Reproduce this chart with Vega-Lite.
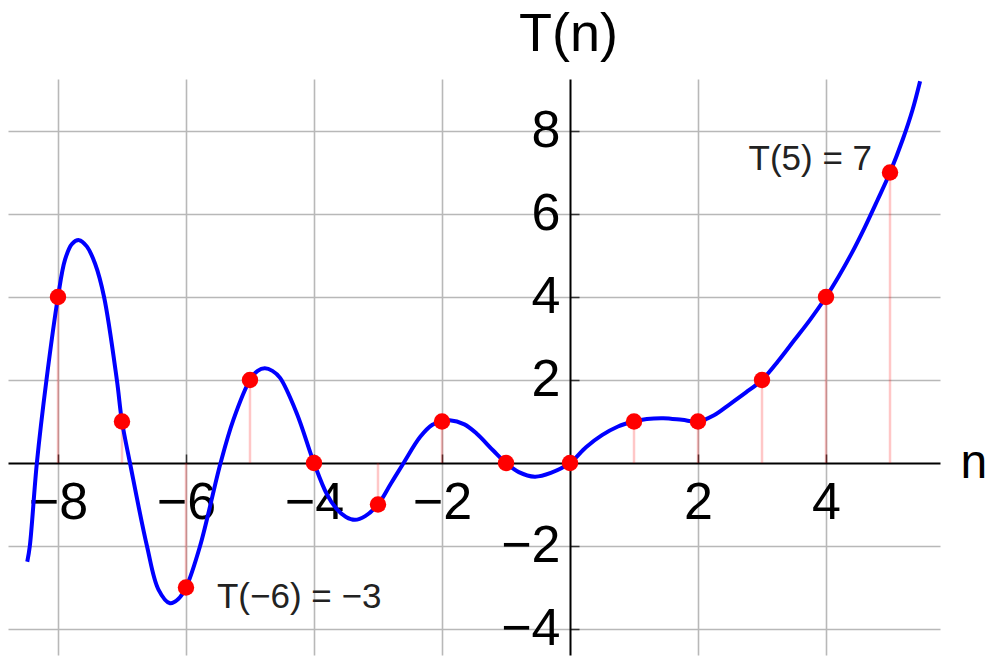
{
  "$schema": "https://vega.github.io/schema/vega-lite/v6.json",
  "width": 932,
  "height": 576,
  "autosize": {"type": "none"},
  "padding": {"left": 8, "top": 79, "right": 47, "bottom": 2},
  "background": "white",
  "config": {
    "view": {"stroke": null},
    "font": "Liberation Sans",
    "axis": {
      "labelFont": "Liberation Sans",
      "titleFont": "Liberation Sans",
      "labelColor": "#000000",
      "titleColor": "#000000",
      "titleFontWeight": "normal",
      "gridColor": "#b8b8b8",
      "gridWidth": 1.6,
      "domainColor": "#000000",
      "domainWidth": 2,
      "tickColor": "#333333",
      "tickWidth": 1.5,
      "tickSize": -9,
      "labelFontSize": 52,
      "titleFontSize": 54,
      "labelFlush": false,
      "labelOverlap": false
    }
  },
  "datasets": {
    "values": [
      {"n": -8, "T": 4},
      {"n": -7, "T": 1},
      {"n": -6, "T": -3},
      {"n": -5, "T": 2},
      {"n": -4, "T": 0},
      {"n": -3, "T": -1},
      {"n": -2, "T": 1},
      {"n": -1, "T": 0},
      {"n": 0, "T": 0},
      {"n": 1, "T": 1},
      {"n": 2, "T": 1},
      {"n": 3, "T": 2},
      {"n": 4, "T": 4},
      {"n": 5, "T": 7}
    ],
    "curve": [
      {"n": -8.48, "T": -2.38},
      {"n": -8.44, "T": -2.0},
      {"n": -8.33, "T": 0},
      {"n": -8.18, "T": 2.0},
      {"n": -8.0, "T": 4.0},
      {"n": -7.89, "T": 4.9},
      {"n": -7.78, "T": 5.28},
      {"n": -7.67, "T": 5.37},
      {"n": -7.55, "T": 5.22},
      {"n": -7.42, "T": 4.8},
      {"n": -7.28, "T": 4.0},
      {"n": -7.08, "T": 2.0},
      {"n": -7.0, "T": 1.0},
      {"n": -6.875, "T": 0},
      {"n": -6.61, "T": -2.0},
      {"n": -6.43, "T": -3.05},
      {"n": -6.25, "T": -3.38},
      {"n": -6.12, "T": -3.28},
      {"n": -6.0, "T": -3.0},
      {"n": -5.78, "T": -2.0},
      {"n": -5.46, "T": 0},
      {"n": -5.26, "T": 1.04},
      {"n": -5.0, "T": 2.0},
      {"n": -4.88, "T": 2.22},
      {"n": -4.77, "T": 2.28},
      {"n": -4.65, "T": 2.22},
      {"n": -4.53, "T": 2.05},
      {"n": -4.27, "T": 1.2},
      {"n": -4.0, "T": 0},
      {"n": -3.8, "T": -0.75},
      {"n": -3.65, "T": -1.1},
      {"n": -3.5, "T": -1.3},
      {"n": -3.36, "T": -1.37},
      {"n": -3.2, "T": -1.28},
      {"n": -3.0, "T": -1.0},
      {"n": -2.8, "T": -0.5},
      {"n": -2.6, "T": 0},
      {"n": -2.34, "T": 0.63},
      {"n": -2.15, "T": 0.92},
      {"n": -2.0, "T": 1.0},
      {"n": -1.88, "T": 1.03},
      {"n": -1.65, "T": 0.93},
      {"n": -1.46, "T": 0.71},
      {"n": -1.2, "T": 0.3},
      {"n": -1.0, "T": 0},
      {"n": -0.8, "T": -0.22},
      {"n": -0.55, "T": -0.33},
      {"n": -0.3, "T": -0.24},
      {"n": 0, "T": 0},
      {"n": 0.25, "T": 0.38},
      {"n": 0.5, "T": 0.67},
      {"n": 0.75, "T": 0.88},
      {"n": 1.0, "T": 1.0},
      {"n": 1.2, "T": 1.06},
      {"n": 1.46, "T": 1.08},
      {"n": 1.75, "T": 1.04},
      {"n": 2.0, "T": 1.0},
      {"n": 2.25, "T": 1.15},
      {"n": 2.5, "T": 1.42},
      {"n": 2.75, "T": 1.7},
      {"n": 3.0, "T": 2.0},
      {"n": 3.25, "T": 2.45},
      {"n": 3.5, "T": 2.95},
      {"n": 3.75, "T": 3.45},
      {"n": 4.0, "T": 4.0},
      {"n": 4.2, "T": 4.5},
      {"n": 4.4, "T": 5.05},
      {"n": 4.6, "T": 5.66},
      {"n": 4.8, "T": 6.32},
      {"n": 5.0, "T": 7.0},
      {"n": 5.2, "T": 7.8},
      {"n": 5.35, "T": 8.5},
      {"n": 5.47, "T": 9.2}
    ],
    "notes": [
      {"n": -6, "T": -3, "label": "T(−6) = −3"},
      {"n": 5, "T": 7, "label": "T(5) = 7"}
    ]
  },
  "encoding": {
    "x": {
      "field": "n",
      "type": "quantitative",
      "scale": {"domain": [-8.781, 5.781], "nice": false, "zero": false},
      "axis": {
        "values": [-8, -6, -4, -2, 2, 4],
        "grid": true,
        "offset": -192,
        "labelPadding": 23,
        "title": "n",
        "titleFontSize": 48,
        "titleAnchor": "start",
        "titleAlign": "left",
        "titleBaseline": "alphabetic",
        "titleAngle": 0,
        "titleX": 952,
        "titleY": 14
      }
    },
    "y": {
      "field": "T",
      "type": "quantitative",
      "scale": {"domain": [-4.627, 9.253], "nice": false, "zero": false},
      "axis": {
        "values": [-4, -2, 2, 4, 6, 8],
        "grid": true,
        "offset": -562,
        "labelPadding": 19,
        "title": "T(n)",
        "titleAngle": 0,
        "titleAlign": "center",
        "titleBaseline": "alphabetic",
        "titleX": -2,
        "titleY": -29
      }
    }
  },
  "layer": [
    {
      "data": {"name": "values"},
      "mark": {"type": "rule", "color": "#ff0000", "opacity": 0.22, "strokeWidth": 2.5},
      "encoding": {"y2": {"datum": 0}}
    },
    {
      "data": {"name": "curve"},
      "mark": {"type": "line", "color": "#0000ff", "strokeWidth": 4, "interpolate": "catmull-rom"},
      "encoding": {"order": {"field": "n", "type": "quantitative"}}
    },
    {
      "data": {"name": "values"},
      "mark": {"type": "circle", "color": "#ff0000", "opacity": 1, "size": 270}
    },
    {
      "data": {"name": "notes"},
      "transform": [{"filter": "datum.n > 0"}],
      "mark": {"type": "text", "align": "right", "baseline": "alphabetic", "dx": -18, "dy": -2, "fontSize": 35, "color": "#222222", "font": "Liberation Sans"},
      "encoding": {"text": {"field": "label"}}
    },
    {
      "data": {"name": "notes"},
      "transform": [{"filter": "datum.n < 0"}],
      "mark": {"type": "text", "align": "left", "baseline": "alphabetic", "dx": 31, "dy": 21, "fontSize": 35, "color": "#222222", "font": "Liberation Sans"},
      "encoding": {"text": {"field": "label"}}
    }
  ]
}
